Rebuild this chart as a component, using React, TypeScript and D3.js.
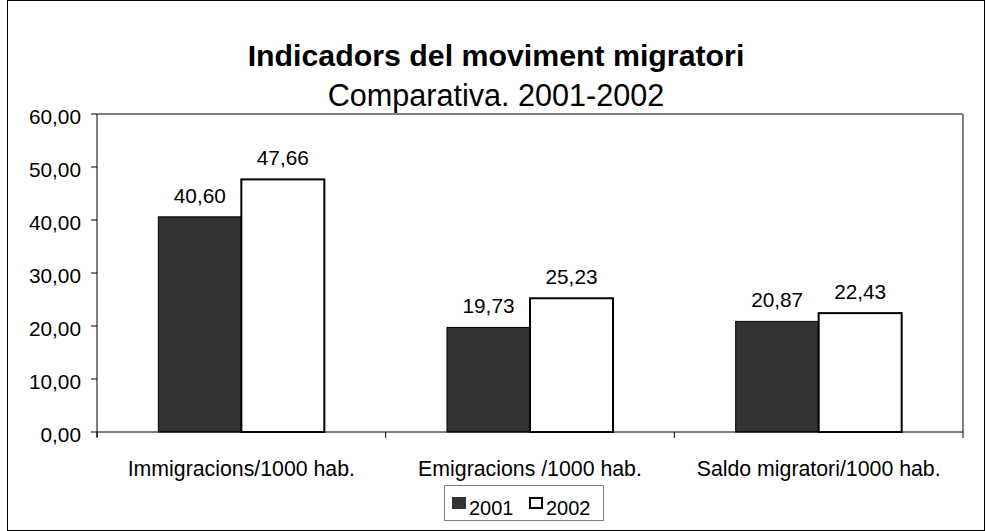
import React from "react";
import * as d3 from "d3";

const categories = ["Immigracions/1000 hab.", "Emigracions /1000 hab.", "Saldo migratori/1000 hab."];
const series = ["2001", "2002"];
const values2001 = [40.6, 19.73, 20.87];
const values2002 = [47.66, 25.23, 22.43];
const yTicks = [0, 10, 20, 30, 40, 50, 60];

const W = 986, H = 531;
const L = 97, R = 963, T = 114, B = 432;
const FONT = "'Liberation Sans', Arial, sans-serif";

const fmt = (v: number) => v.toFixed(2).replace(".", ",");

export default function App() {
  const x = d3.scaleBand().domain(categories).range([L, R]).paddingInner(0).paddingOuter(0);
  const y = d3.scaleLinear().domain([0, 60]).range([B, T]);
  const bw = 83;
  const data = [values2001, values2002];
  return (
    <svg width={W} height={H} style={{ position: "absolute", left: 0, top: 0 }} fontFamily={FONT}>
      <rect x={7.5} y={0.5} width={977} height={530} fill="white" stroke="black" strokeWidth={1} />
      <text x={496} y={66} textAnchor="middle" fontSize={30.3} fontWeight="bold">Indicadors del moviment migratori</text>
      <text x={496} y={106} textAnchor="middle" fontSize={30.6}>Comparativa. 2001-2002</text>
      {/* plot frame */}
      <line x1={L} y1={T} x2={R} y2={T} stroke="#808080" strokeWidth={2} />
      <line x1={R} y1={T} x2={R} y2={B} stroke="#808080" strokeWidth={2} />
      {/* bars */}
      {categories.map((c, i) => {
        const cx = (x(c) as number) + x.bandwidth() / 2;
        return series.map((s, j) => {
          const v = data[j][i];
          const bx = cx - bw + j * bw;
          return (
            <g key={c + s}>
              <rect x={bx} y={y(v)} width={bw} height={B - y(v)} fill={j === 0 ? "#333333" : "white"} stroke="black" strokeWidth={j === 0 ? 1 : 2} />
              <text x={bx + bw / 2} y={y(v) - 14} textAnchor="middle" fontSize={20.8}>{fmt(v)}</text>
            </g>
          );
        });
      })}
      {/* axes */}
      <line x1={L} y1={B} x2={R} y2={B} stroke="black" strokeWidth={1} />
      <line x1={L} y1={T} x2={L} y2={B + 5} stroke="black" strokeWidth={1} />
      {yTicks.map((t) => (
        <g key={t}>
          <line x1={L - 6} x2={L} y1={y(t)} y2={y(t)} stroke="black" />
          <text x={L - 16} y={y(t) + 10} textAnchor="end" fontSize={20.8}>{fmt(t)}</text>
        </g>
      ))}
      {[...categories.map((c) => x(c) as number), R].map((p, i) => (
        <line key={i} x1={p} x2={p} y1={B} y2={B + 6} stroke="black" />
      ))}
      {categories.map((c) => (
        <text key={c} x={(x(c) as number) + x.bandwidth() / 2} y={476} textAnchor="middle" fontSize={21.3}>{c}</text>
      ))}
      {/* legend */}
      <rect x={444.5} y={485.5} width={159} height={35} fill="white" stroke="#808080" strokeWidth={1} />
      <rect x={452.5} y={497.5} width={13} height={11} fill="#333333" stroke="#333333" strokeWidth={1} />
      <text x={469} y={515} fontSize={20}>2001</text>
      <rect x={530} y={498} width={12} height={10} fill="white" stroke="black" strokeWidth={2} />
      <text x={546} y={515} fontSize={20}>2002</text>
    </svg>
  );
}
